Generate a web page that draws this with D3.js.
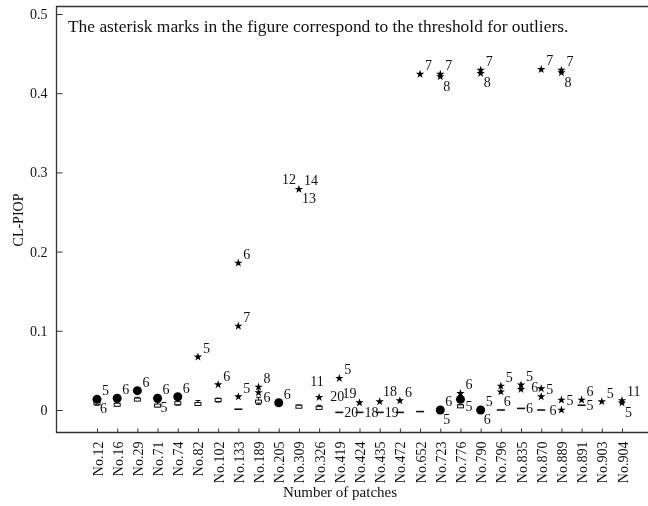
<!DOCTYPE html>
<html>
<head>
<meta charset="utf-8">
<script src="https://cdn.jsdelivr.net/npm/d3@7"></script>
<style>
  body { margin: 0; background: #fff; }
  svg { filter: grayscale(1); }
  text { font-family: "Liberation Serif", "Times New Roman", serif; fill: #111; }
</style>
</head>
<body>
<svg id="chart" width="648" height="506"></svg>
<script>
// categories on the x axis
var patches = ["No.12", "No.16", "No.29", "No.71", "No.74", "No.82", "No.102", "No.133", "No.189",
    "No.205", "No.309", "No.326", "No.419", "No.424", "No.435", "No.472", "No.652", "No.723",
    "No.776", "No.790", "No.796", "No.835", "No.870", "No.889", "No.891", "No.903", "No.904"];

var yTicks = [0, 0.1, 0.2, 0.3, 0.4, 0.5];
var yTickLabels = ["0", "0.1", "0.2", "0.3", "0.4", "0.5"];

// box stats per patch: [whisker low, q1, q3, whisker high]; null = no box drawn
var boxes = [
    [0.006, 0.0075, 0.0105, 0.012], [0.005, 0.006, 0.0085, 0.010], [0.012, 0.0125, 0.015, 0.016],
    [0.004, 0.005, 0.0075, 0.010], [0.006, 0.0075, 0.0105, 0.013], [0.007, 0.0075, 0.0095, 0.012],
    [0.010, 0.011, 0.0145, 0.015], [0.001, 0.001, 0.001, 0.001], [0.007, 0.009, 0.0125, 0.016],
    [0.007, 0.008, 0.0105, 0.011], [0.004, 0.0045, 0.006, 0.0065], [0.002, 0.0025, 0.0045, 0.006],
    [-0.003, -0.003, -0.003, -0.003], [-0.003, -0.003, -0.003, -0.003], [-0.003, -0.003, -0.003, -0.003],
    [-0.003, -0.003, -0.003, -0.003], [-0.002, -0.002, -0.002, -0.002], null,
    [0.004, 0.0045, 0.0065, 0.007], null, [0, 0, 0, 0],
    [0.002, 0.002, 0.002, 0.002], [0, 0, 0, 0], null,
    [0.006, 0.006, 0.006, 0.006], null, null
];

// labels next to the boxes / dashes: [patch, text, where]
var boxLabels = [
    ["No.419", "20", "r"], ["No.419", "20", "u"], ["No.424", "18", "r"], ["No.435", "19", "r"],
    ["No.776", "5", "r"], ["No.835", "6", "r"], ["No.891", "5", "r"]
];

// outliers (circles): [patch, value, labels]
var outliers = [
    ["No.12", 0.0135, [["5", "ur"], ["6", "lr"]]],
    ["No.16", 0.0148, [["6", "ur"]]],
    ["No.29", 0.0244, [["6", "ur"]]],
    ["No.71", 0.0148, [["6", "ur"], ["5", "lr"]]],
    ["No.74", 0.0168, [["6", "ur"]]],
    ["No.205", 0.0092, [["6", "ur"]]],
    ["No.723", 0.0, [["6", "ur"], ["5", "lr"]]],
    ["No.776", 0.0135, []],
    ["No.790", 0.0, [["5", "ur"], ["6", "lr"]]]
];

// extreme values (asterisks): [patch, value, labels]
var extremes = [
    ["No.82", 0.067, [["5", "ur"]]],
    ["No.102", 0.032, [["6", "ur"]]],
    ["No.133", 0.0168, [["5", "ur"]]],
    ["No.133", 0.1856, [["6", "ur"]]],
    ["No.133", 0.106, [["7", "ur"]]],
    ["No.189", 0.0290, [["8", "ur"]]],
    ["No.189", 0.022, [["6", "rl"]]],
    ["No.309", 0.2787, [["12", "ul"], ["14", "ur"], ["13", "lr"]]],
    ["No.326", 0.016, [["11", "u"]]],
    ["No.419", 0.040, [["5", "ur"]]],
    ["No.424", 0.0092, [["19", "ul"]]],
    ["No.435", 0.0105, []],
    ["No.472", 0.0117, [["18", "ul"], ["6", "ur"]]],
    ["No.652", 0.424, [["7", "ur"]]],
    ["No.723", 0.424, [["7", "ur"]]],
    ["No.723", 0.421, [["8", "lr"]]],
    ["No.776", 0.021, [["6", "ur"]]],
    ["No.790", 0.429, [["7", "ur"]]],
    ["No.790", 0.425, [["8", "lr"]]],
    ["No.796", 0.0303, [["5", "ur"]]],
    ["No.796", 0.023, [["6", "lr"]]],
    ["No.835", 0.0316, [["5", "ur"]]],
    ["No.835", 0.026, []],
    ["No.870", 0.430, [["7", "ur"]]],
    ["No.870", 0.027, [["5", "r"]]],
    ["No.870", 0.0168, [["6", "ul"]]],
    ["No.889", 0.429, [["7", "ur"]]],
    ["No.889", 0.426, [["8", "lr"]]],
    ["No.889", 0.0126, [["5", "r"]]],
    ["No.889", 0.0, [["6", "l"]]],
    ["No.891", 0.0126, [["6", "ur"]]],
    ["No.903", 0.0105, [["5", "ur"]]],
    ["No.904", 0.012, [["11", "ur"]]],
    ["No.904", 0.009, [["5", "lr"]]]
];

var note = "The asterisk marks in the figure correspond to the threshold for outliers.";

// layout
var frame = {left: 56.5, top: 6.5, right: 660, bottom: 432.5};
var svg = d3.select("#chart");

var x = d3.scalePoint().domain(patches).range([97, 622]);
var y = d3.scaleLinear().domain([0, 0.5]).range([410, 14]);

// label placement relative to a mark
var labelPos = {
    ur: {dx: 5, dy: -4, anchor: "start"},
    lr: {dx: 3, dy: 14, anchor: "start"},
    r: {dx: 5, dy: 5, anchor: "start"},
    rl: {dx: 5, dy: 9, anchor: "start"},
    l: {dx: -5, dy: 5, anchor: "end"},
    ul: {dx: -3, dy: -5, anchor: "end"},
    u: {dx: -2, dy: -11, anchor: "middle"}
};

// frame (right side runs off the picture)
svg.append("path")
    .attr("d", "M" + frame.right + "," + frame.top + "H" + frame.left + "V" + frame.bottom + "H" + frame.right)
    .attr("fill", "none")
    .attr("stroke", "#333")
    .attr("stroke-width", 1.3);

// y axis, ticks pointing inward
var yAxis = d3.axisRight(y).tickValues(yTicks).tickSize(6)
    .tickFormat(function (d, i) { return yTickLabels[i]; });
var gy = svg.append("g").attr("transform", "translate(" + frame.left + ",0)").call(yAxis);
gy.select(".domain").remove();
gy.selectAll(".tick line").attr("stroke", "#333");
gy.selectAll(".tick text")
    .attr("x", -9).attr("text-anchor", "end")
    .style("font-family", "Liberation Serif").style("font-size", "14px");

// x axis, ticks pointing inward
var xAxis = d3.axisTop(x).tickSize(4).tickSizeOuter(0);
var gx = svg.append("g").attr("transform", "translate(0," + frame.bottom + ")").call(xAxis);
gx.select(".domain").remove();
gx.selectAll(".tick line").attr("stroke", "#333");
gx.selectAll(".tick text")
    .attr("transform", "rotate(-90)")
    .attr("x", -9).attr("y", 5).attr("dy", 0)
    .attr("text-anchor", "end")
    .style("font-family", "Liberation Serif").style("font-size", "14px");

// axis titles and note
svg.append("text").attr("x", 340).attr("y", 497).attr("text-anchor", "middle")
    .style("font-size", "15px").text("Number of patches");
svg.append("text").attr("transform", "translate(23,220) rotate(-90)").attr("text-anchor", "middle")
    .style("font-size", "14px").text("CL-PIOP");
svg.append("text").attr("x", 68).attr("y", 32)
    .style("font-size", "17.4px").text(note);

// boxes
var gBox = svg.append("g");
boxes.forEach(function (b, i) {
    if (!b) return;
    var cx = x(patches[i]);
    if (b[1] === b[2]) {
        gBox.append("line")
            .attr("x1", cx - 4).attr("x2", cx + 4)
            .attr("y1", y(b[1])).attr("y2", y(b[1]))
            .attr("stroke", "#111").attr("stroke-width", 1.6);
        return;
    }
    [[b[0], b[1]], [b[2], b[3]]].forEach(function (w) {
        gBox.append("line").attr("x1", cx).attr("x2", cx)
            .attr("y1", y(w[0])).attr("y2", y(w[1])).attr("stroke", "#111");
    });
    [b[0], b[3]].forEach(function (v) {
        gBox.append("line").attr("x1", cx - 2.5).attr("x2", cx + 2.5)
            .attr("y1", y(v)).attr("y2", y(v)).attr("stroke", "#111");
    });
    var top = y(b[2]), h = Math.max(y(b[1]) - top, 3);
    gBox.append("rect").attr("x", cx - 3).attr("y", top).attr("width", 6).attr("height", h)
        .attr("fill", "#fff").attr("stroke", "#111").attr("stroke-width", 1);
});

function addLabel(px, py, txt, where) {
    var p = labelPos[where];
    svg.append("text")
        .attr("x", px + p.dx).attr("y", py + p.dy)
        .attr("text-anchor", p.anchor)
        .style("font-size", "14px")
        .text(txt);
}

boxLabels.forEach(function (d) {
    var b = boxes[patches.indexOf(d[0])];
    addLabel(x(d[0]), y(b[1]), d[1], d[2]);
});

// outlier circles
outliers.forEach(function (d) {
    var cx = x(d[0]), cy = y(d[1]);
    svg.append("circle").attr("cx", cx).attr("cy", cy).attr("r", 4.5).attr("fill", "#000");
    d[2].forEach(function (l) { addLabel(cx, cy, l[0], l[1]); });
});

// extreme asterisks
var star = d3.symbol().type(d3.symbolStar).size(22);
extremes.forEach(function (d) {
    var cx = x(d[0]), cy = y(d[1]);
    svg.append("path").attr("d", star())
        .attr("transform", "translate(" + cx + "," + cy + ")")
        .attr("fill", "#000");
    d[2].forEach(function (l) { addLabel(cx, cy, l[0], l[1]); });
});
</script>
</body>
</html>
